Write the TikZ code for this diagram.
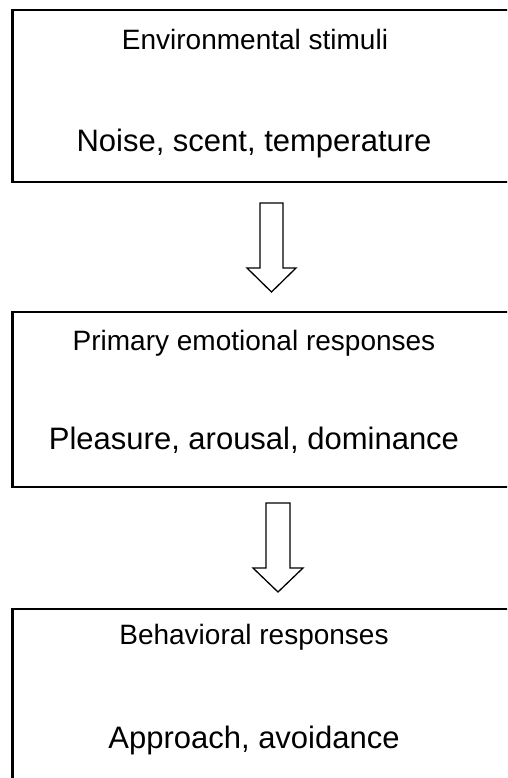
\documentclass[tikz,border=0pt]{standalone}
\usepackage{fontspec}
\setmainfont{Liberation Sans}
\begin{document}
\begin{tikzpicture}[x=1pt,y=-1pt,
  boxline/.style={draw=black,line width=2.2pt},
  lbl/.style={font=\fontsize{31}{37}\selectfont,anchor=center,inner sep=0pt},
  ttl/.style={font=\fontsize{28}{34}\selectfont,anchor=center,inner sep=0pt},
  hollow/.style={draw=black,line width=1.3pt,fill=white,line join=miter}]
\useasboundingbox (0,0) rectangle (507,778);
\clip (0,0) rectangle (507,778);
% boxes
\coordinate (b1a) at (12.5,10); \coordinate (b1b) at (520,182);
\coordinate (b2a) at (12.5,312); \coordinate (b2b) at (520,487);
\coordinate (b3a) at (12.5,609); \coordinate (b3b) at (520,800);
\draw[boxline] (b1a) rectangle (b1b);
\draw[boxline] (b2a) rectangle (b2b);
\draw[boxline] (b3a) rectangle (b3b);
% texts
\node[ttl] (t1) at (255,39) {Environmental stimuli};
\node[lbl] (t2) at (254,143) {Noise, scent, temperature};
\node[ttl] (t3) at (254,343) {Primary emotional responses};
\node[lbl] (t4) at (254,440) {Pleasure, arousal, dominance};
\node[ttl] (t5) at (254,637) {Behavioral responses};
\node[lbl] (t6) at (254,740) {Approach, avoidance};
% hollow arrows
\draw[hollow] (260,203) -- (283,203) -- (283,268) -- (296,268) -- (271.5,292)
  -- (247,268) -- (260,268) -- cycle;
\draw[hollow] (266,503) -- (290,503) -- (290,568) -- (303,568) -- (278,592)
  -- (253,568) -- (266,568) -- cycle;
\end{tikzpicture}
\end{document}
